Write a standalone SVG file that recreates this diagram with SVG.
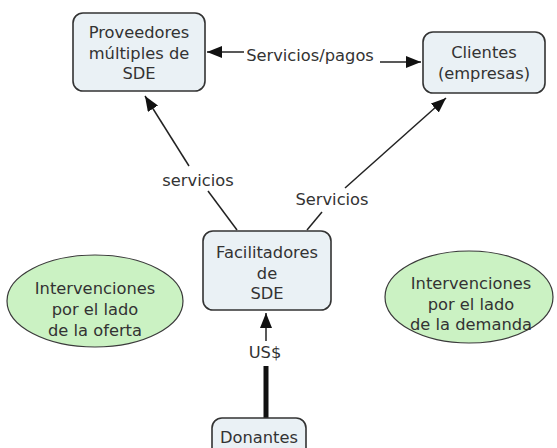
<svg xmlns="http://www.w3.org/2000/svg" width="557" height="448" viewBox="0 0 557 448">
  <defs>
    <style>
      .box { fill: #eaf1f5; stroke: #333333; stroke-width: 1.6; }
      .oval { fill: #cbf2c3; stroke: #3a3a3a; stroke-width: 1.2; }
      .lbl { font-family: "DejaVu Sans", Verdana, sans-serif; font-size: 16.3px; fill: #333333; text-anchor: middle; }
      .link { stroke: #222222; stroke-width: 1.5; fill: none; }
      .thick { stroke: #111111; stroke-width: 5; fill: none; }
    </style>
    <marker id="arrow" viewBox="0 0 15 12" refX="15" refY="6" markerWidth="15" markerHeight="12" markerUnits="userSpaceOnUse" orient="auto">
      <path d="M0,0 L15,6 L0,12 Z" fill="#111111"/>
    </marker>
  </defs>

  <rect width="557" height="448" fill="#ffffff"/>

  <!-- connectors -->
  <g id="connectors">
    <line class="link" x1="244" y1="52" x2="207" y2="52" marker-end="url(#arrow)"/>
    <line class="link" x1="380" y1="62" x2="421" y2="62" marker-end="url(#arrow)"/>
    <line class="link" x1="237" y1="230" x2="208" y2="191"/>
    <line class="link" x1="189" y1="166" x2="145" y2="96" marker-end="url(#arrow)"/>
    <line class="link" x1="307" y1="230" x2="322" y2="212"/>
    <line class="link" x1="345" y1="188" x2="446" y2="98" marker-end="url(#arrow)"/>
    <line class="thick" x1="266" y1="418" x2="266" y2="366"/>
    <line class="link" x1="266" y1="341" x2="266" y2="313" marker-end="url(#arrow)"/>
    <text class="lbl" x="310" y="61">Servicios/pagos</text>
    <text class="lbl" x="198" y="185.5">servicios</text>
    <text class="lbl" x="332" y="204.5">Servicios</text>
    <text class="lbl" x="265" y="357.5">US$</text>
  </g>

  <g id="proveedores">
    <rect class="box" x="73" y="13" width="132" height="78" rx="10"/>
    <text class="lbl" x="139" y="38">Proveedores</text>
    <text class="lbl" x="139" y="58.5">múltiples de</text>
    <text class="lbl" x="139" y="79">SDE</text>
  </g>

  <g id="clientes">
    <rect class="box" x="423" y="32" width="122" height="61" rx="10"/>
    <text class="lbl" x="484" y="58">Clientes</text>
    <text class="lbl" x="484" y="79">(empresas)</text>
  </g>

  <g id="facilitadores">
    <rect class="box" x="203" y="231" width="128" height="79" rx="10"/>
    <text class="lbl" x="267" y="258">Facilitadores</text>
    <text class="lbl" x="267" y="279">de</text>
    <text class="lbl" x="267" y="299">SDE</text>
  </g>

  <g id="oferta">
    <ellipse class="oval" cx="95" cy="301" rx="88" ry="46"/>
    <text class="lbl" x="95" y="294">Intervenciones</text>
    <text class="lbl" x="95" y="315">por el lado</text>
    <text class="lbl" x="95" y="335.5">de la oferta</text>
  </g>

  <g id="demanda">
    <ellipse class="oval" cx="469" cy="297" rx="84" ry="46"/>
    <text class="lbl" x="471" y="289">Intervenciones</text>
    <text class="lbl" x="471" y="309.5">por el lado</text>
    <text class="lbl" x="471" y="330">de la demanda</text>
  </g>

  <g id="donantes">
    <rect class="box" x="212" y="418" width="94" height="40" rx="10"/>
    <text class="lbl" x="259" y="442.5">Donantes</text>
  </g>
</svg>
